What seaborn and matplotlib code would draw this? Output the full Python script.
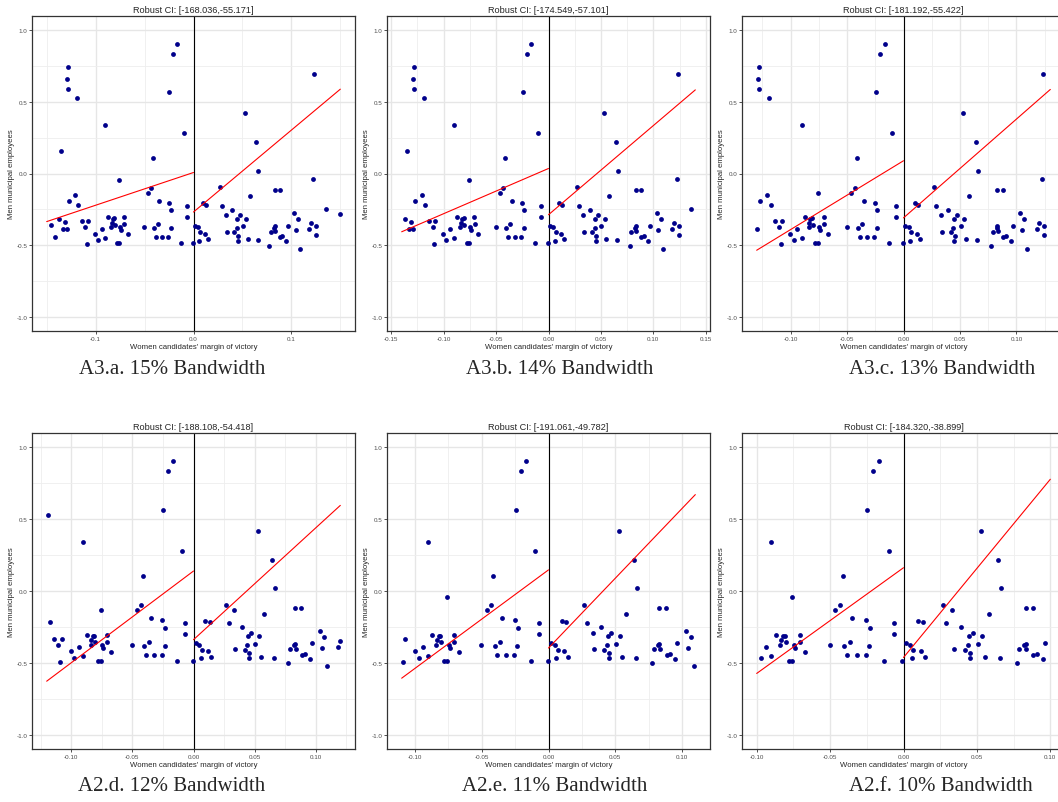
import pandas as pd
import matplotlib
matplotlib.use("Agg")
import matplotlib.pyplot as plt
from matplotlib.ticker import MultipleLocator, FormatStrFormatter
import seaborn as sns

# women candidates' margin of victory (x) and men municipal employees (y)
margin = [-0.1458, -0.1414, -0.1370, -0.1353, -0.1329, -0.1315, -0.1295, -0.1292, -0.1280, -0.1278,
          -0.1270, -0.1207, -0.1190, -0.1176, -0.1142, -0.1105, -0.1088, -0.1078, -0.1003, -0.0973,
          -0.0939, -0.0902, -0.0902, -0.0871, -0.0841, -0.0834, -0.0824, -0.0810, -0.0803, -0.0780,
          -0.0759, -0.0746, -0.0739, -0.0708, -0.0705, -0.0671, -0.0502, -0.0464, -0.0430, -0.0414,
          -0.0403, -0.0386, -0.0366, -0.0349, -0.0319, -0.0258, -0.0254, -0.0247, -0.0234, -0.0231,
          -0.0207, -0.0166, -0.0132, -0.0098, -0.0068, -0.0068, -0.0007,
          0.0017, 0.0047, 0.0058, 0.0068, 0.0098, 0.0119, 0.0132, 0.0146, 0.0268, 0.0292,
          0.0342, 0.0393, 0.0417, 0.0441, 0.0447, 0.0451, 0.0454, 0.0471, 0.0505, 0.0529,
          0.0536, 0.0553, 0.0580, 0.0641, 0.0654, 0.0664, 0.0776, 0.0790, 0.0824, 0.0831,
          0.0831, 0.0837, 0.0881, 0.0885, 0.0908, 0.0949, 0.0966, 0.1030, 0.1047, 0.1068,
          0.1092, 0.1180, 0.1197, 0.1224, 0.1234, 0.1247, 0.1247, 0.1356, 0.1498]
men_emp = [-0.360, -0.443, -0.316, 0.160, -0.387, -0.336, -0.390, 0.659, 0.592, 0.747,
           -0.190, -0.151, 0.527, -0.218, -0.334, -0.376, -0.494, -0.332, -0.420, -0.466,
           -0.387, 0.341, -0.450, -0.304, -0.376, -0.343, -0.316, -0.313, -0.357, -0.485,
           -0.487, -0.376, -0.397, -0.304, -0.353, -0.422, -0.373, -0.135, -0.100, 0.107,
           -0.383, -0.445, -0.353, -0.190, -0.443, -0.443, -0.204, 0.566, -0.383, -0.258,
           0.835, 0.903, -0.487, 0.281, -0.225, -0.302, -0.487,
           -0.364, -0.373, -0.469, -0.408, -0.209, -0.420, -0.218, -0.457, -0.097, -0.225,
           -0.406, -0.253, -0.411, -0.378, -0.316, -0.469, -0.434, -0.292, -0.367, 0.420,
           -0.316, -0.459, -0.158, 0.218, -0.464, 0.019, -0.503, -0.406, -0.378, -0.116,
           -0.369, -0.401, -0.116, -0.443, -0.436, -0.471, -0.364, -0.276, -0.394, -0.318,
           -0.524, -0.390, -0.348, -0.035, 0.694, -0.369, -0.427, -0.246, -0.285]

# two observations whose height differs between panels
moved_x = [-0.0759, 0.0332]
moved_y = [[-0.044, -0.290], [-0.044, -0.290], [-0.133, -0.290],
           [-0.133, -0.133], [-0.044, -0.290], [-0.044, -0.133]]

bandwidths = [0.15, 0.14, 0.13, 0.12, 0.11, 0.10]
ci_labels = ["Robust CI: [-168.036,-55.171]", "Robust CI: [-174.549,-57.101]",
             "Robust CI: [-181.192,-55.422]", "Robust CI: [-188.108,-54.418]",
             "Robust CI: [-191.061,-49.782]", "Robust CI: [-184.320,-38.899]"]
captions = ["A3.a. 15% Bandwidth", "A3.b. 14% Bandwidth", "A3.c. 13% Bandwidth",
            "A2.d. 12% Bandwidth", "A2.e. 11% Bandwidth", "A2.f. 10% Bandwidth"]
# fitted values at -bw and 0 (left), 0 and +bw (right)
left_fit = [(-0.336, 0.007), (-0.407, 0.035), (-0.536, 0.089),
            (-0.628, 0.139), (-0.607, 0.147), (-0.574, 0.162)]
right_fit = [(-0.269, 0.589), (-0.288, 0.584), (-0.310, 0.587),
             (-0.339, 0.596), (-0.397, 0.671), (-0.463, 0.778)]

sns.set_theme(style="white")
plt.rcParams["font.family"] = ["Liberation Sans", "DejaVu Sans"]
plt.rcParams["axes.unicode_minus"] = False

W, H = 1058, 803
fig = plt.figure(figsize=(W / 100, H / 100), dpi=100)

col_left = [32, 387, 742]
row_top = [17, 434]
row_bot = [332, 750]
cap_x = [[172, 560, 942], [172, 555, 941]]
cap_y = [369, 787]

base = pd.DataFrame({"margin": margin, "men": men_emp})

for i, bw in enumerate(bandwidths):
    r, c = divmod(i, 3)
    ax = fig.add_axes([col_left[c] / W, 1 - row_bot[r] / H,
                       323 / W, (row_bot[r] - row_top[r]) / H])
    extra = pd.DataFrame({"margin": moved_x, "men": moved_y[i]})
    df = pd.concat([base, extra], ignore_index=True)
    df = df[df["margin"].abs() <= bw + 1e-9]

    ax.set_axisbelow(True)
    ax.grid(True, which="major", color="#E6E6E6", linewidth=1.0)
    ax.grid(True, which="minor", color="#EEEEEE", linewidth=0.6)
    ax.axvline(0, color="black", linewidth=0.8, zorder=2)
    sns.scatterplot(data=df, x="margin", y="men", color="#00008B", s=12,
                    linewidth=0, ax=ax, zorder=3)
    sns.lineplot(x=[-bw, 0], y=list(left_fit[i]), color="red", linewidth=0.8,
                 ax=ax, zorder=4)
    sns.lineplot(x=[0, bw], y=list(right_fit[i]), color="red", linewidth=0.8,
                 ax=ax, zorder=4)

    ax.set_xlim(-bw * 1.1, bw * 1.1)
    ax.set_ylim(-1.1, 1.1)
    if i == 0:
        ax.xaxis.set_major_locator(MultipleLocator(0.1))
        ax.xaxis.set_minor_locator(MultipleLocator(0.05))
        ax.xaxis.set_major_formatter(FormatStrFormatter("%.1f"))
    else:
        ax.xaxis.set_major_locator(MultipleLocator(0.05))
        ax.xaxis.set_minor_locator(MultipleLocator(0.025))
        ax.xaxis.set_major_formatter(FormatStrFormatter("%.2f"))
    ax.yaxis.set_major_locator(MultipleLocator(0.5))
    ax.yaxis.set_minor_locator(MultipleLocator(0.25))
    ax.yaxis.set_major_formatter(FormatStrFormatter("%.1f"))
    ax.tick_params(which="major", length=2, width=0.6, color="#333333",
                   labelsize=4.5, labelcolor="#4D4D4D", pad=1.5)
    ax.tick_params(which="minor", length=0)
    ax.tick_params(bottom=True, left=True)
    for sp in ax.spines.values():
        sp.set_color("#333333")
        sp.set_linewidth(0.9)

    ax.set_xlabel("Women candidates' margin of victory", fontsize=5.6, labelpad=1.5)
    ax.set_ylabel("Men municipal employees", fontsize=5.6, labelpad=1)
    ax.set_title(ci_labels[i], fontsize=6.6, pad=3)

    fig.text(cap_x[r][c] / W, 1 - cap_y[r] / H, captions[i], ha="center", va="center",
             fontsize=15, family=["Liberation Serif", "DejaVu Serif"])

fig.savefig("out.png", dpi=100, facecolor="white")
